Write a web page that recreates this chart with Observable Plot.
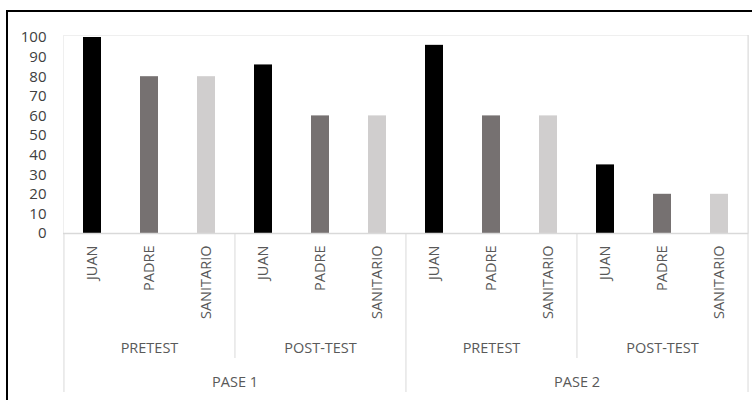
<!DOCTYPE html>
<html>
<head>
<meta charset="utf-8">
<script src="https://cdn.jsdelivr.net/npm/d3@7"></script>
<script src="https://cdn.jsdelivr.net/npm/@observablehq/plot@0.6"></script>
<style>
  html, body { margin: 0; padding: 0; background: #fff; overflow: hidden; }
  #wrap { position: relative; width: 752px; height: 400px; overflow: hidden; }
  #border { position: absolute; left: 6px; top: 10px; width: 800px; height: 500px;
            border-left: 2px solid #000; border-top: 2px solid #000; pointer-events: none; }
  svg { font-family: "Open Sans", Lato, sans-serif; }
</style>
</head>
<body>
<div id="wrap"><div id="border"></div></div>
<script>
const pases = ["PASE 1", "PASE 2"];
const fases = ["PRETEST", "POST-TEST"];
const personas = ["JUAN", "PADRE", "SANITARIO"];
const valores = [100, 80, 80, 86, 60, 60, 96, 60, 60, 35, 20, 20];
const colores = ["#000000", "#767171", "#d0cece"];
const yTicks = [0, 10, 20, 30, 40, 50, 60, 70, 80, 90, 100];

const rows = [];
let i = 0;
for (const p of pases) for (const f of fases) for (const n of personas) {
  rows.push({key: `${p}|${f}|${n}`, pase: p, fase: f, persona: n, value: valores[i++]});
}
const keys = rows.map(d => d.key);
const W = 752, H = 400, mL = 63, mR = 4, mT = 37, mB = 167;
const step = (W - mL - mR) / keys.length;

const faseRows = rows.filter(d => d.persona === "PADRE");
const faseStarts = rows.filter(d => d.persona === "JUAN");
const paseMid = rows.filter((d, j) => j % 6 === 2);
const paseStarts = rows.filter((d, j) => j % 6 === 0);
const lastRow = [rows[rows.length - 1]];
const fs = 14.5;

const chart = Plot.plot({
  width: W, height: H,
  marginLeft: mL, marginRight: mR, marginTop: mT, marginBottom: mB,
  x: {domain: keys, paddingInner: 0.68, paddingOuter: 0.34, axis: null},
  y: {domain: [0, 100], axis: null},
  color: {domain: personas, range: colores},
  marks: [
    Plot.frame({stroke: "#efefef", insetTop: -2}),
    Plot.axisY({ticks: yTicks, tickSize: 0, tickPadding: 17, fontSize: 15, fill: "#404040", label: null}),
    Plot.barY(rows, {x: "key", y: "value", fill: "persona"}),
    Plot.ruleY([0], {stroke: "#d9d9d9", strokeWidth: 1.5}),
    // short separators between fase groups
    Plot.ruleX(faseStarts.filter((d, j) => j % 2 === 1), {x: "key", dx: -step / 2, stroke: "#d9d9d9", insetTop: 196, insetBottom: -125}),
    // long separators around pase groups
    Plot.ruleX(paseStarts, {x: "key", dx: -step / 2, stroke: "#d9d9d9", insetTop: 196, insetBottom: -159}),
    Plot.ruleX(lastRow, {x: "key", dx: step / 2, stroke: "#d9d9d9", insetTop: -2, insetBottom: -159}),
    // persona labels
    Plot.text(rows, {x: "key", text: "persona", frameAnchor: "bottom", dy: 12, rotate: -90,
      textAnchor: "end", lineAnchor: "middle", fontSize: fs, fill: "#595959"}),
    // fase labels
    Plot.text(faseRows, {x: "key", text: "fase", frameAnchor: "bottom", dy: 115, lineAnchor: "middle", fontSize: fs, fill: "#595959"}),
    // pase labels
    Plot.text(paseMid, {x: "key", text: "pase", frameAnchor: "bottom", dy: 149, dx: step / 2, lineAnchor: "middle", fontSize: fs, fill: "#595959"})
  ]
});
document.getElementById("wrap").prepend(chart);
</script>
</body>
</html>
